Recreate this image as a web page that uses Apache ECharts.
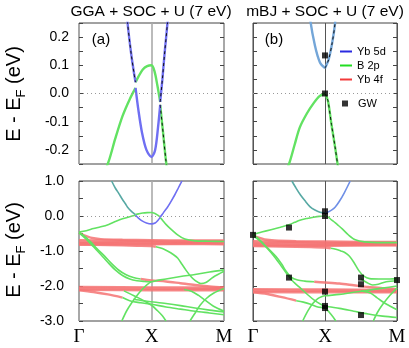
<!DOCTYPE html>
<html>
<head>
<meta charset="utf-8">
<script src="https://cdn.jsdelivr.net/npm/echarts@6/dist/echarts.min.js"></script>
<style>
html, body { margin: 0; background: #fff; }
#chart { width: 409px; height: 348px; }
</style>
</head>
<body>
<div id="chart"></div>
<script>
// k path: 0 = Gamma, 1 = X, 2 = M
var kNames = ['\u0393', 'X', 'M'];

// ---- panel (a): GGA + SOC + U ----
var aBlueL = [[0.45,1.0],[0.5,0.8],[0.55,0.64],[0.6,0.47],[0.64,0.35],[0.67,0.25],[0.72,0.14],[0.76,0.07],[0.78,0.04]];
var aGreenArc = [[0.78,0.04],[0.82,0.06],[0.88,0.085],[0.94,0.097],[1.0,0.1],[1.04,0.08],[1.08,0.03],[1.12,-0.03]];
var aBlueR = [[1.12,-0.03],[1.15,0.05],[1.18,0.14],[1.22,0.25],[1.27,0.42],[1.32,0.6],[1.37,0.8],[1.42,1.0]];
var aGreenL = [[0,-0.46],[0.1,-0.42],[0.2,-0.36],[0.3,-0.31],[0.41,-0.24],[0.5,-0.16],[0.6,-0.08],[0.7,-0.02],[0.78,0.02]];
var aBlueB = [[0.78,0.02],[0.82,-0.06],[0.87,-0.14],[0.93,-0.2],[1.0,-0.225],[1.05,-0.2],[1.09,-0.12],[1.12,-0.04]];
var aGreenR = [[1.12,-0.04],[1.16,-0.14],[1.2,-0.24],[1.26,-0.36],[1.36,-0.54],[1.46,-0.66],[1.6,-0.71],[1.8,-0.72],[2,-0.73]];

var aRed1 = [[0,-0.48],[0.08,-0.56],[0.16,-0.62],[0.3,-0.66],[0.6,-0.68],[1,-0.69],[1.5,-0.7],[2,-0.7]];
var aRed2 = [[0,-0.69],[0.5,-0.7],[1,-0.72],[1.5,-0.73],[2,-0.73]];
var aRed3 = [[0,-0.74],[0.5,-0.75],[1,-0.75],[1.5,-0.76],[2,-0.76]];
var aRed4 = [[0,-0.78],[0.5,-0.78],[1,-0.79],[1.5,-0.78],[2,-0.79]];
var aRed5 = [[0,-0.82],[0.4,-0.83],[0.8,-0.85],[1.0,-0.86],[1.06,-0.88]];
var aRed6 = [[0,-0.8],[0.5,-0.81],[1,-0.81],[1.5,-0.8],[2,-0.81]];
var aRed7 = [[0,-2.03],[1,-2.04],[2,-2.05]];
var aRed8 = [[0,-2.07],[1,-2.08],[2,-2.09]];
var aRed9 = [[0,-2.11],[1,-2.12],[2,-2.12]];
var aRed10 = [[0,-2.12],[0.2,-2.17],[0.4,-2.24],[0.6,-2.33]];
var aRed11 = [[0.85,-1.8],[1.0,-1.84],[1.2,-1.87],[1.4,-1.92],[1.6,-1.97],[1.8,-2.01],[2,-2.04]];

var aG3 = [[0,-0.48],[0.08,-0.58],[0.16,-0.74],[0.25,-0.94],[0.35,-1.14],[0.45,-1.36],[0.55,-1.55],[0.65,-1.68],[0.75,-1.76],[0.85,-1.8]];
var aG4 = [[0,-0.48],[0.1,-0.66],[0.2,-0.88],[0.3,-1.1],[0.4,-1.33],[0.5,-1.54],[0.6,-1.7],[0.7,-1.8],[0.8,-1.85],[0.9,-1.87],[1.0,-1.88]];
var aGrise = [[0.59,-3.0],[0.66,-2.7],[0.73,-2.47],[0.8,-2.27],[0.87,-2.1],[0.94,-1.96],[1.0,-1.88],[1.2,-1.8],[1.4,-1.73],[1.6,-1.67],[1.8,-1.6],[2.0,-1.54]];
var aG5 = [[1.06,-0.88],[1.15,-0.93],[1.22,-1.0],[1.3,-1.1],[1.36,-1.2],[1.42,-1.38],[1.48,-1.56],[1.54,-1.72],[1.6,-1.84],[1.68,-1.93],[1.75,-1.9],[1.85,-1.75],[2.0,-1.58]];
var aG6 = [[0.6,-2.33],[0.7,-2.42],[0.85,-2.48],[1.0,-2.52],[1.2,-2.6],[1.4,-2.66],[1.6,-2.72],[1.8,-2.77],[2.0,-2.82]];
var aG7 = [[0.62,-2.14],[0.72,-2.24],[0.82,-2.34],[0.92,-2.45],[1.0,-2.55],[1.08,-2.7],[1.15,-2.85],[1.2,-3.0]];
var aG8 = [[0.75,-2.38],[0.88,-2.42],[1.0,-2.45],[1.2,-2.5],[1.4,-2.56],[1.6,-2.63],[1.8,-2.69],[2.0,-2.74]];
var aG9 = [[1.53,-3.0],[1.6,-2.78],[1.67,-2.55],[1.76,-2.35],[1.86,-2.2],[2.0,-2.07]];
var aG10 = [[1.45,-2.1],[1.55,-2.15],[1.65,-2.27],[1.75,-2.42],[1.85,-2.57],[2.0,-2.72]];

// ---- panel (b): mBJ + SOC + U ----
var bBlueL = [[0.54,1.0],[0.6,0.79],[0.66,0.6],[0.72,0.44],[0.79,0.27],[0.86,0.17],[0.93,0.11],[1.0,0.09]];
var bBlueR = [[1.0,0.09],[1.05,0.12],[1.1,0.18],[1.14,0.25],[1.2,0.42],[1.27,0.67],[1.35,1.0]];
var bGreenL = [[0,-0.53],[0.12,-0.46],[0.25,-0.39],[0.38,-0.32],[0.5,-0.25],[0.58,-0.18],[0.65,-0.12],[0.75,-0.07],[0.84,-0.035],[0.92,-0.01],[1.0,0.0]];
var bGreenR = [[1.0,0.0],[1.04,-0.025],[1.09,-0.11],[1.14,-0.19],[1.18,-0.26],[1.24,-0.37],[1.33,-0.55],[1.42,-0.68],[1.55,-0.74],[1.8,-0.76],[2,-0.76]];

var bRed1 = [[0,-0.55],[0.08,-0.62],[0.16,-0.67],[0.3,-0.7],[0.6,-0.72],[1,-0.73],[1.5,-0.74],[2,-0.74]];
var bRed2 = [[0,-0.72],[0.5,-0.74],[1,-0.76],[1.5,-0.77],[2,-0.77]];
var bRed3 = [[0,-0.77],[0.5,-0.78],[1,-0.79],[2,-0.8]];
var bRed4 = [[0,-0.81],[0.5,-0.82],[1,-0.83],[1.5,-0.82],[2,-0.83]];
var bRed5 = [[0,-0.86],[0.4,-0.87],[0.8,-0.89],[1.0,-0.9],[1.08,-0.92]];
var bRed6 = [[0,-0.84],[1,-0.85],[2,-0.84]];
var bRed7 = [[0,-2.09],[1,-2.1],[2,-2.11]];
var bRed8 = [[0,-2.13],[1,-2.14],[2,-2.15]];
var bRed9 = [[0,-2.17],[1,-2.18],[2,-2.18]];
var bRed10 = [[0,-2.18],[0.2,-2.23],[0.4,-2.32],[0.6,-2.42]];
var bRed11 = [[0.85,-1.88],[1.0,-1.9],[1.2,-1.93],[1.4,-1.98],[1.6,-2.03],[1.8,-2.06],[2,-2.09]];

var bG3 = [[0,-0.55],[0.08,-0.65],[0.16,-0.83],[0.24,-0.99],[0.32,-1.16],[0.4,-1.38],[0.46,-1.58],[0.53,-1.75],[0.62,-1.83],[0.72,-1.86],[0.85,-1.88]];
var bG4 = [[0,-0.55],[0.1,-0.72],[0.2,-0.93],[0.3,-1.17],[0.4,-1.45],[0.48,-1.68],[0.56,-1.88],[0.66,-2.06],[0.76,-2.25],[0.86,-2.42],[0.94,-2.52],[1.0,-2.57],[1.2,-2.64],[1.4,-2.72],[1.6,-2.8],[1.8,-2.86],[2.0,-2.9]];
var bGrise = [[0.69,-3.0],[0.76,-2.72],[0.83,-2.5],[0.9,-2.36],[0.96,-2.3],[1.0,-2.28],[1.2,-2.24],[1.4,-2.18],[1.6,-2.12],[1.8,-2.06],[2.0,-2.0]];
var bG5 = [[1.08,-0.92],[1.15,-0.95],[1.22,-1.0],[1.28,-1.05],[1.34,-1.15],[1.4,-1.32],[1.47,-1.56],[1.54,-1.72],[1.62,-1.79],[1.75,-1.8],[1.9,-1.8],[2.0,-1.79]];
var bG6 = [[1.5,-1.8],[1.58,-1.9],[1.66,-1.97],[1.74,-1.95],[1.85,-1.88],[2.0,-1.85]];
var bG7 = [[0.6,-2.42],[0.7,-2.46],[0.8,-2.52],[0.9,-2.6],[1.0,-2.63],[1.08,-2.8],[1.15,-3.0]];
var bG9 = [[1.67,-3.0],[1.73,-2.75],[1.8,-2.53],[1.9,-2.27],[2.0,-2.06]];
var bG10 = [[1.5,-2.14],[1.63,-2.2],[1.72,-2.33],[1.8,-2.45],[1.9,-2.57],[2.0,-2.68]];

// GW quasiparticle energies (panel b)
var gwPoints = [[0,-0.54],[0.5,-0.33],[0.5,-1.76],[1,0.135],[1,0.0],[1,-2.16],[1,-2.57],[1,-2.63],[1.5,-1.76],[1.5,-1.95],[1.5,-2.83],[2,-1.83]];

var GREEN = '#62e262', BLUE = '#6f6ff2', TEAL = '#58a9a4', RED = 'rgba(245,115,115,0.85)';

var series = [];
// draws one band in the top (zoomed) and bottom panel of a column
function band(data, panel, color, name, z, topColor) {
    var grids = panel === 'a' ? [0, 2] : [1, 3];
    grids.forEach(function (g) {
        var top = g < 2;
        var w = name === 'Yb 4f' ? (top ? 4 : 2.4) : (top ? 2.4 : 1.6);
        series.push({
            type: 'line', name: name, xAxisIndex: g, yAxisIndex: g, data: data,
            symbol: 'none', smooth: 0.3, silent: true, z: z, clip: true,
            lineStyle: {color: (top && topColor) ? topColor : color, width: w}
        });
    });
}
function dashTop(data, g) {
    series.push({
        type: 'line', name: '', xAxisIndex: g, yAxisIndex: g, data: data,
        symbol: 'none', smooth: 0.3, silent: true, z: 6, clip: true,
        lineStyle: {color: '#111', width: 1, type: [3, 3]}
    });
}

[aRed1, aRed2, aRed3, aRed4, aRed5, aRed6, aRed7, aRed8, aRed9, aRed10, aRed11].forEach(function (d) { band(d, 'a', RED, 'Yb 4f', 2); });
[bRed1, bRed2, bRed3, bRed4, bRed5, bRed6, bRed7, bRed8, bRed9, bRed10, bRed11].forEach(function (d) { band(d, 'b', RED, 'Yb 4f', 2); });
[aGreenArc, aGreenL, aGreenR, aG3, aG4, aGrise, aG5, aG6, aG7, aG8, aG9, aG10].forEach(function (d) { band(d, 'a', GREEN, 'B 2p', 3); });
[bGreenL, bGreenR, bG3, bG4, bGrise, bG5, bG6, bG7, bG9, bG10].forEach(function (d) { band(d, 'b', GREEN, 'B 2p', 3); });
band(aBlueL, 'a', TEAL, 'Yb 5d', 4, '#7373ee');
band(aBlueB, 'a', BLUE, 'Yb 5d', 4);
band(aBlueR, 'a', BLUE, 'Yb 5d', 4);
band(bBlueL, 'b', TEAL, 'Yb 5d', 4, '#74a6d8');
band(bBlueR, 'b', '#6f8fe6', 'Yb 5d', 4, '#74a6d8');
dashTop(aBlueL, 0);
dashTop(aGreenR, 0);
dashTop(aBlueR, 0);
dashTop(bGreenR, 1);
dashTop(bBlueR, 1);

[1, 3].forEach(function (g) {
    series.push({
        type: 'scatter', name: 'GW', xAxisIndex: g, yAxisIndex: g, data: gwPoints,
        symbol: 'rect', symbolSize: 6, itemStyle: {color: '#000'}, z: 8, silent: true
    });
});
// Fermi level dotted line in every panel
[0, 1, 2, 3].forEach(function (g) {
    series.push({
        type: 'line', xAxisIndex: g, yAxisIndex: g, data: [], silent: true,
        markLine: {silent: true, symbol: 'none', label: {show: false},
            lineStyle: {color: '#999', type: [1, 3], width: 1},
            data: [{yAxis: 0}]}
    });
});

var grids = [
    {left: 79, top: 23, width: 145, height: 141},
    {left: 253, top: 23, width: 144, height: 141},
    {left: 79, top: 181, width: 145, height: 140},
    {left: 253, top: 181, width: 144, height: 140}
];
grids.forEach(function (g) {
    g.show = true; g.borderColor = '#444'; g.borderWidth = 1; g.outerBoundsMode = 'none';
});

function fmtTop(v) {
    var r = Math.round(v * 100);
    if (Math.abs(v) > 0.24 || r % 10 !== 0) return '';
    if (r === 0) return '0.0';
    return (r / 100).toFixed(1);
}
function fmtBottom(v) {
    var r = Math.round(v * 10);
    if (r % 10 !== 0) return '';
    if (r === 0) return '0.0';
    return (r / 10).toFixed(1);
}

var xAxes = [0, 1, 2, 3].map(function (g) {
    var a = g % 2 === 0;
    return {
        type: 'value', gridIndex: g, min: 0, max: 2, interval: 1,
        axisLine: {show: false}, axisTick: {show: false},
        splitLine: {show: true, lineStyle: {color: a ? '#aaa' : '#555', width: a ? 1.6 : 1}},
        axisLabel: {show: g >= 2, formatter: function (v) { return kNames[Math.round(v)]; },
            fontFamily: 'Liberation Serif', fontSize: 19, color: '#000', margin: 7}
    };
});
var yAxes = [];
[0, 1, 2, 3].forEach(function (g) {
    var top = g < 2;
    yAxes.push({
        type: 'value', gridIndex: g, min: top ? -0.25 : -3, max: top ? 0.25 : 1, interval: top ? 0.05 : 0.5,
        axisLine: {show: false}, splitLine: {show: false},
        axisTick: {show: true, inside: true, length: 4, lineStyle: {color: '#444'}},
        axisLabel: {show: g % 2 === 0, formatter: top ? fmtTop : fmtBottom, margin: top ? 10 : 15,
            fontFamily: 'Liberation Sans', fontSize: 14, color: '#000'}
    });
});
[0, 1, 2, 3].forEach(function (g) {
    var top = g < 2;
    yAxes.push({
        type: 'value', gridIndex: g, position: 'right', min: top ? -0.25 : -3, max: top ? 0.25 : 1, interval: top ? 0.05 : 0.5,
        axisLine: {show: false}, splitLine: {show: false}, axisLabel: {show: false},
        axisTick: {show: true, inside: true, length: 4, lineStyle: {color: '#444'}}
    });
});

var yTitleRich = {
    n: {fontFamily: 'Liberation Sans', fontSize: 20, color: '#000', verticalAlign: 'top'},
    s: {fontFamily: 'Liberation Sans', fontSize: 13, color: '#000', verticalAlign: 'top', padding: [10, 0, 0, 0]}
};
function textAt(x, y, text, size) {
    return {type: 'text', x: x, y: y, silent: true,
        style: {text: text, fontFamily: 'Liberation Sans', fontSize: size, fill: '#000', align: 'center', verticalAlign: 'middle'}};
}
function yTitle(y) {
    return {type: 'text', x: 16, y: y, rotation: Math.PI / 2, silent: true,
        style: {text: '{n|E - E}{s|F}{n| (eV)}', rich: yTitleRich, align: 'center', verticalAlign: 'middle'}};
}

var chart = echarts.init(document.getElementById('chart'), null, {renderer: 'canvas'});
chart.setOption({
    animation: false,
    backgroundColor: '#fff',
    grid: grids,
    xAxis: xAxes,
    yAxis: yAxes,
    legend: [{
        left: 340, top: 46, padding: 0, orient: 'vertical', icon: 'rect', itemWidth: 12, itemHeight: 2, itemGap: 3,
        selectedMode: false,
        textStyle: {fontFamily: 'Liberation Sans', fontSize: 11, color: '#000', lineHeight: 11},
        data: [{name: 'Yb 5d', itemStyle: {color: '#2a2ae0'}},
               {name: 'B 2p', itemStyle: {color: '#22dd22'}},
               {name: 'Yb 4f', itemStyle: {color: '#f23a3a'}}]
    }, {
        left: 342, top: 98, padding: 0, orient: 'vertical', icon: 'rect', itemWidth: 6, itemHeight: 6,
        selectedMode: false,
        textStyle: {fontFamily: 'Liberation Sans', fontSize: 11, color: '#000', padding: [0, 0, 0, 5]},
        data: [{name: 'GW', itemStyle: {color: '#000'}}]
    }],
    graphic: [
        textAt(151, 12, 'GGA + SOC + U (7 eV)', 15.5),
        textAt(325, 12, 'mBJ + SOC + U (7 eV)', 15.5),
        textAt(101, 40, '(a)', 15),
        textAt(274, 40, '(b)', 15),
        yTitle(94), yTitle(250)
    ],
    series: series
});
</script>
</body>
</html>
